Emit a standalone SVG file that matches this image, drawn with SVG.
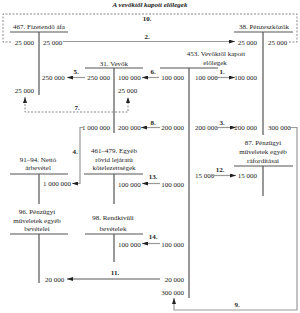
<svg xmlns="http://www.w3.org/2000/svg" width="300" height="313" viewBox="0 0 300 313">
<style>
text{font-family:"Liberation Serif","Times New Roman",serif;font-size:7px;fill:#222}
.ttl{font-weight:bold;font-style:italic}
.lbl{font-weight:bold;text-anchor:middle}
.c{text-anchor:middle}
.e{text-anchor:end}
.t{stroke:#555;stroke-width:1.2;fill:none}
.a{stroke:#999;stroke-width:1.2;fill:none}
.ag{stroke:#aaa;stroke-width:2;fill:none}
.d{stroke:#888;stroke-width:1;stroke-dasharray:2 1.5;fill:none}
</style>
<defs>
<marker id="ah" viewBox="0 0 6 4" refX="6" refY="2" markerWidth="6" markerHeight="4" orient="auto-start-reverse" markerUnits="userSpaceOnUse"><path d="M0,0 L6,2 L0,4 z" fill="#222"/></marker>
</defs>
<text class="ttl c" x="150" y="7">A vevőktől kapott előlegek</text>

<g id="acc467">
<text class="c" x="39" y="28.5">467. Fizetendő áfa</text>
<path class="t" d="M10,32 H68 M39,32 V95"/>
<text class="e" x="34" y="44.5">25 000</text>
<text x="43" y="44.5">25 000</text>
<text x="42" y="80">250 000</text>
<text class="e" x="34" y="92.5">25 000</text>
</g>

<g id="acc38">
<text class="c" x="264" y="28.5">38. Pénzeszközök</text>
<path class="t" d="M234,32 H293 M263,32 V135"/>
<text class="e" x="257" y="44.5">25 000</text>
<text x="268" y="44.5">25 000</text>
<text class="e" x="257" y="80">100 000</text>
<text class="e" x="257" y="130">200 000</text>
<text x="268" y="130">300 000</text>
</g>

<g id="acc31">
<text class="c" x="114" y="65.5">31. Vevők</text>
<path class="t" d="M85,68 H143 M114,68 V133"/>
<text class="e" x="110" y="80">250 000</text>
<text x="118" y="80">100 000</text>
<text x="118" y="92.5">25 000</text>
<text class="e" x="110" y="130">1 000 000</text>
<text x="118" y="130">200 000</text>
</g>

<g id="acc453">
<text class="c" x="216" y="55.5">453. Vevőktől kapott</text>
<text class="c" x="215" y="64.5">előlegek</text>
<path class="t" d="M160,68 H218 M189,68 V298"/>
<text class="e" x="184" y="80">100 000</text>
<text x="195" y="80">100 000</text>
<text class="e" x="184" y="130">200 000</text>
<text x="195" y="130">200 000</text>
<text x="195" y="178">15 000</text>
<text class="e" x="184" y="187">100 000</text>
<text class="e" x="184" y="246.5">100 000</text>
<text class="e" x="184" y="281.5">20 000</text>
<text class="e" x="184" y="294.5">300 000</text>
</g>

<g id="acc87">
<text class="c" x="263" y="145">87. Pénzügyi</text>
<text class="c" x="263" y="154">műveletek egyéb</text>
<text class="c" x="263" y="163">ráfordításai</text>
<path class="t" d="M234,166 H293 M263,166 V196"/>
<text class="e" x="257" y="178">15 000</text>
</g>

<g id="acc461">
<text class="c" x="114" y="153">461–479. Egyéb</text>
<text class="c" x="114" y="161.5">rövid lejáratú</text>
<text class="c" x="114" y="170">kötelezettségek</text>
<path class="t" d="M84,174 H143 M114,174 V204"/>
<text x="118" y="187">100 000</text>
</g>

<g id="acc91">
<text class="c" x="38" y="161.5">91–94. Nettó</text>
<text class="c" x="38" y="170">árbevétel</text>
<path class="t" d="M10,174 H68 M39,174 V204"/>
<text x="43" y="186">1 000 000</text>
</g>

<g id="acc96">
<text class="c" x="37" y="214">96. Pénzügyi</text>
<text class="c" x="37" y="222.5">műveletek egyéb</text>
<text class="c" x="37" y="231">bevételei</text>
<path class="t" d="M10,234 H68 M39,234 V283"/>
<text x="45" y="281.5">20 000</text>
</g>

<g id="acc98">
<text class="c" x="113" y="220">98. Rendkívüli</text>
<text class="c" x="113" y="231">bevételek</text>
<path class="t" d="M85,234 H143 M114,234 V262"/>
<text x="118" y="246.5">100 000</text>
</g>

<g id="connectors">
<path class="d" d="M289,42 H297 V14 H3 V42 H11"/>
<text class="lbl" x="147" y="21">10.</text>
<path class="a" d="M63,41.5 H235" marker-end="url(#ah)"/>
<text class="lbl" x="147" y="39">2.</text>
<path class="a" d="M85,77.5 H67" marker-end="url(#ah)"/>
<text class="lbl" x="76" y="74">5.</text>
<path class="a" d="M159,77.5 H142" marker-end="url(#ah)"/>
<text class="lbl" x="153" y="74">6.</text>
<path class="a" d="M214,77.5 H235" marker-end="url(#ah)"/>
<text class="lbl" x="222" y="74">1.</text>
<path class="d" d="M25,97 V112 H128 V97" marker-start="url(#ah)" marker-end="url(#ah)"/>
<text class="lbl" x="77" y="110">7.</text>
<path class="a" d="M160,127.5 H141" marker-end="url(#ah)"/>
<text class="lbl" x="153" y="124.5">8.</text>
<path class="a" d="M216,127.5 H236" marker-end="url(#ah)"/>
<text class="lbl" x="222" y="124.5">3.</text>
<path class="a" d="M289,127.5 H297 V310 H174 V298" marker-end="url(#ah)"/>
<text class="lbl" x="237" y="307">9.</text>
<path class="a" d="M83,127.5 H80 V183.5 H72" marker-end="url(#ah)"/>
<text class="lbl" x="75" y="154">4.</text>
<path class="a" d="M211,175.5 H236" marker-end="url(#ah)"/>
<text class="lbl" x="220" y="172">12.</text>
<path class="a" d="M160,183.5 H142" marker-end="url(#ah)"/>
<text class="lbl" x="153" y="179">13.</text>
<path class="a" d="M160,243.5 H142" marker-end="url(#ah)"/>
<text class="lbl" x="153" y="239">14.</text>
<path class="ag" d="M160,279 H67" marker-end="url(#ah)"/>
<text class="lbl" x="115" y="275">11.</text>
</g>
</svg>
